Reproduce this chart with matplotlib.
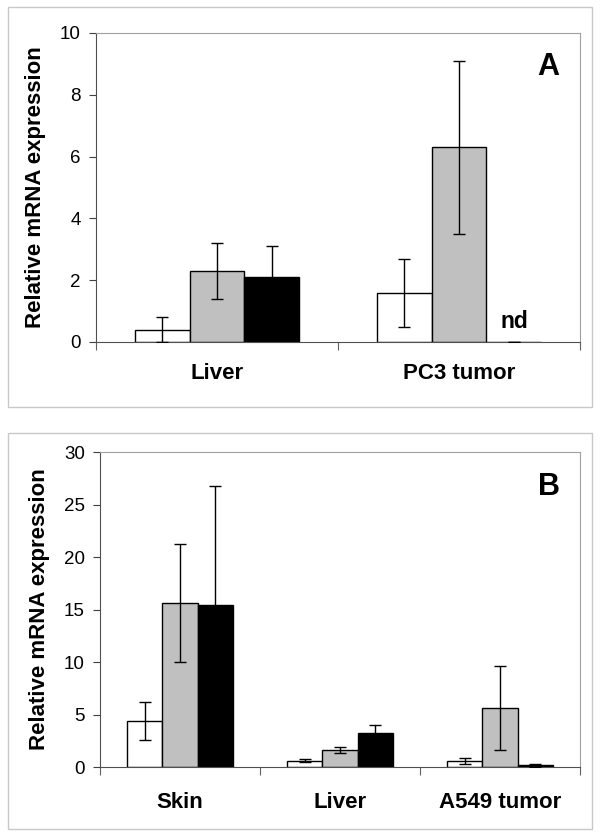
import matplotlib.pyplot as plt
import numpy as np
from matplotlib.patches import Rectangle

plt.rcParams['font.family'] = ['Liberation Sans', 'DejaVu Sans']

# panel A
cats_a = ["Liver", "PC3 tumor"]
white_a = [0.4, 1.6]
gray_a = [2.3, 6.3]
black_a = [2.1, 0.0]
white_err_a = [0.4, 1.1]
gray_err_a = [0.9, 2.8]
black_err_a = [1.0, 0.0]

# panel B
cats_b = ["Skin", "Liver", "A549 tumor"]
white_b = [4.4, 0.6, 0.6]
gray_b = [15.6, 1.6, 5.6]
black_b = [15.4, 3.2, 0.15]
white_err_b = [1.8, 0.12, 0.3]
gray_err_b = [5.6, 0.3, 4.0]
black_err_b = [11.4, 0.8, 0.15]

yticks_a = [0, 2, 4, 6, 8, 10]
yticks_b = [0, 5, 10, 15, 20, 25, 30]


def draw_panel(ax, cats, vals, errs, yticks, letter, bw, pad):
    x = np.arange(len(cats))
    colors = ["white", "#c0c0c0", "black"]
    for k in range(3):
        ax.bar(x + (k - 1) * bw, vals[k], bw, color=colors[k],
               edgecolor="black", linewidth=1.0, zorder=2)
        ax.errorbar(x + (k - 1) * bw, vals[k], yerr=errs[k], fmt="none",
                    ecolor="black", elinewidth=1.0, capsize=4, capthick=1.0,
                    zorder=3)
    ax.set_xlim(-0.5, len(cats) - 0.5)
    ax.set_ylim(yticks[0], yticks[-1])
    ax.set_yticks(yticks)
    ax.set_yticklabels([str(t) for t in yticks], fontsize=13.5)
    ax.set_xticks(np.arange(len(cats) + 1) - 0.5)
    ax.set_xticklabels([])
    ax.set_xticks(x, minor=True)
    ax.set_xticklabels(cats, minor=True, fontsize=16, fontweight="bold")
    ax.tick_params(axis="x", which="minor", length=0, pad=pad)
    ax.tick_params(axis="x", which="major", length=6, color="#606060")
    ax.tick_params(axis="y", length=5, color="#404040", pad=6)
    ax.set_ylabel("Relative mRNA expression", fontsize=16, fontweight="bold",
                  labelpad=10)
    for s in ["left", "bottom"]:
        ax.spines[s].set_color("#505050")
    for s in ["top", "right"]:
        ax.spines[s].set_color("#a0a0a0")
    ax.text(0.935, 0.89, letter, transform=ax.transAxes, fontsize=22,
            fontweight="bold", ha="center", va="center")


fig = plt.figure(figsize=(6, 8.4), dpi=100)

fig.add_artist(Rectangle((8 / 600, 433 / 840), 584 / 600, 400 / 840,
                         transform=fig.transFigure, fill=False,
                         edgecolor="#c8c8c8", linewidth=1.0))
fig.add_artist(Rectangle((8 / 600, 11 / 840), 584 / 600, 396 / 840,
                         transform=fig.transFigure, fill=False,
                         edgecolor="#c8c8c8", linewidth=1.0))

ax_a = fig.add_axes([0.16, 0.5929, 0.8067, 0.3679])
draw_panel(ax_a, cats_a, [white_a, gray_a, black_a],
           [white_err_a, gray_err_a, black_err_a], yticks_a, "A", 0.227, 15)
ax_a.text(1 + 0.227, 0.3, "nd", fontsize=16.5, fontweight="bold",
          ha="center", va="bottom")

ax_b = fig.add_axes([0.1667, 0.0869, 0.8, 0.375])
draw_panel(ax_b, cats_b, [white_b, gray_b, black_b],
           [white_err_b, gray_err_b, black_err_b], yticks_b, "B", 0.22, 18)

plt.savefig("out.png")
